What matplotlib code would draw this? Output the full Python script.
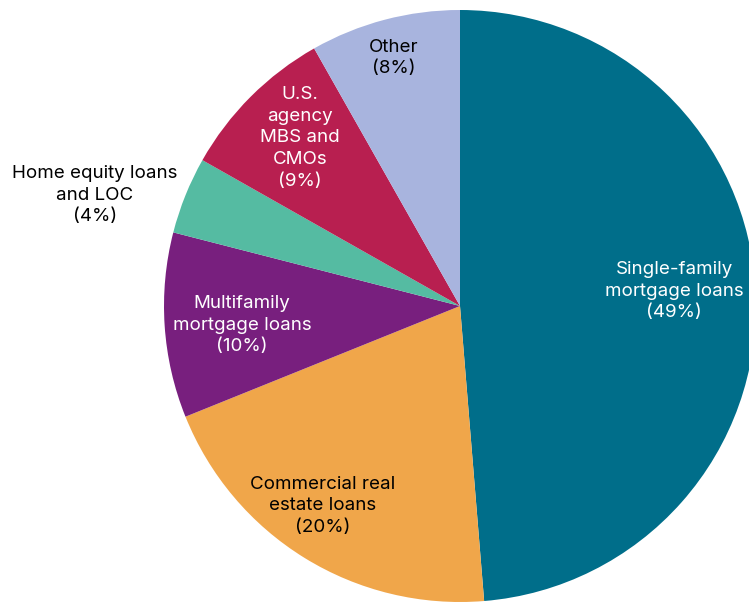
import matplotlib.pyplot as plt

# Loan portfolio composition, clockwise from 12 o'clock
categories = [
    "Single-family\nmortgage loans",
    "Commercial real\nestate loans",
    "Multifamily\nmortgage loans",
    "Home equity loans\nand LOC",
    "U.S.\nagency\nMBS and\nCMOs",
    "Other",
]
shares = [48.7, 20.2, 10.1, 4.2, 8.6, 8.2]
colors = ["#006E8A", "#F0A64A", "#781F7E", "#55BBA2", "#B81F50", "#A8B4DE"]
text_colors = ["white", "black", "white", "black", "white", "black"]

# label centres in pixels (x, y from top)
label_pos = [(674, 291), (323, 506), (242, 325), (95, 195), (300, 138), (394, 58)]

W, H = 749, 602
fig = plt.figure(figsize=(W / 100, H / 100), dpi=100)
ax = fig.add_axes([0, 0, 1, 1])

ax.pie(
    shares,
    colors=colors,
    startangle=90,
    counterclock=False,
    center=(460, H - 306),
    radius=296,
    frame=True,
    wedgeprops={"linewidth": 0},
)
ax.set_xlim(0, W)
ax.set_ylim(0, H)
ax.set_aspect("equal")
ax.axis("off")

for name, val, (px, py), tc in zip(categories, shares, label_pos, text_colors):
    ax.text(
        px,
        H - py,
        f"{name}\n({round(val)}%)",
        ha="center",
        va="center",
        color=tc,
        fontsize=13.5,
        family=["Inter", "DejaVu Sans"],
        linespacing=1.37,
    )

fig.savefig("out.png", dpi=100)
